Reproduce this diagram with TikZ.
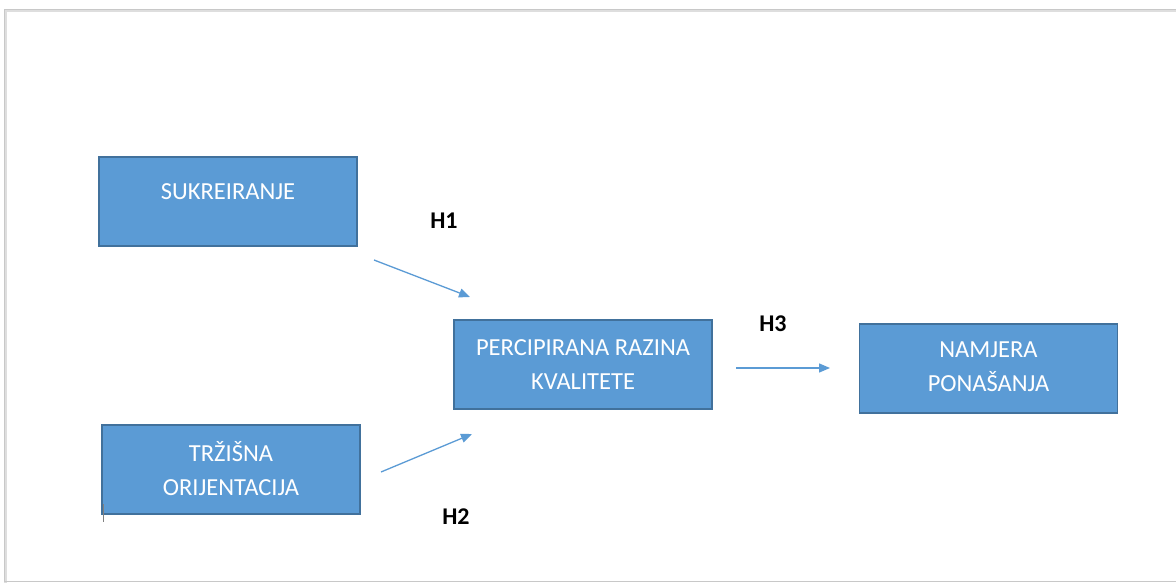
\documentclass[tikz,border=0pt]{standalone}
\usepackage{fontspec}
\setmainfont{Carlito}
\usetikzlibrary{arrows.meta}
\definecolor{boxfill}{HTML}{5B9BD5}
\definecolor{boxline}{HTML}{41719C}
\definecolor{arr}{HTML}{5B9BD5}
\definecolor{frame}{HTML}{C8C8C8}
\tikzset{
  box/.style={draw=boxline, line width=1.2pt, fill=boxfill, minimum width=258pt, minimum height=89pt, inner sep=0pt},
  boxtext/.style={text=white, font=\fontsize{24.5pt}{34pt}\selectfont, align=center},
  hyp/.style={font=\bfseries\fontsize{24pt}{26pt}\selectfont, text=black},
  link/.style={draw=arr, line width=1.3pt, -{Triangle[length=11pt,width=9pt]}}
}
\begin{document}
\begin{tikzpicture}[x=1pt,y=-1pt]
\useasboundingbox (0,0) rectangle (1176,583);
\fill[white] (0,0) rectangle (1176,583);
\draw[frame!60, line width=3pt] (5,11) -- (5,590);
\draw[frame!60, line width=3pt] (5,11) -- (1180,11);
\draw[frame, line width=1pt] (4,10) rectangle (1180,581);
% boxes
\node[box] (suk) at (228,201.5) {};
\node[boxtext] (sukt) at (228,192) {SUKREIRANJE};
\node[box] (per) at (583,364.5) {};
\node[boxtext] (pert) at (583,364.5) {PERCIPIRANA RAZINA\\KVALITETE};
\node[box] (nam) at (988.5,368.5) {};
\node[boxtext] (namt) at (988.5,367) {NAMJERA\\PONAŠANJA};
\node[box] (trz) at (231,469.5) {};
\node[boxtext] (trzt) at (231,469) {TRŽIŠNA\\ORIJENTACIJA};
% cursor tick
\coordinate (c1) at (103,504);
\coordinate (c2) at (103,522);
\draw[gray, line width=1pt] (c1) -- (c2);
% arrows
\coordinate (a1s) at (374,260);
\coordinate (a1e) at (470,297);
\coordinate (a2s) at (381,472);
\coordinate (a2e) at (472,434);
\coordinate (a3s) at (736,368);
\coordinate (a3e) at (830,368);
\draw[link] (a1s) -- (a1e);
\draw[link] (a2s) -- (a2e);
\draw[link] (a3s) -- (a3e);
% labels
\node[hyp] (h1) at (444,221) {H1};
\node[hyp] (h2) at (456,517) {H2};
\node[hyp] (h3) at (773,324) {H3};
\end{tikzpicture}
\end{document}
